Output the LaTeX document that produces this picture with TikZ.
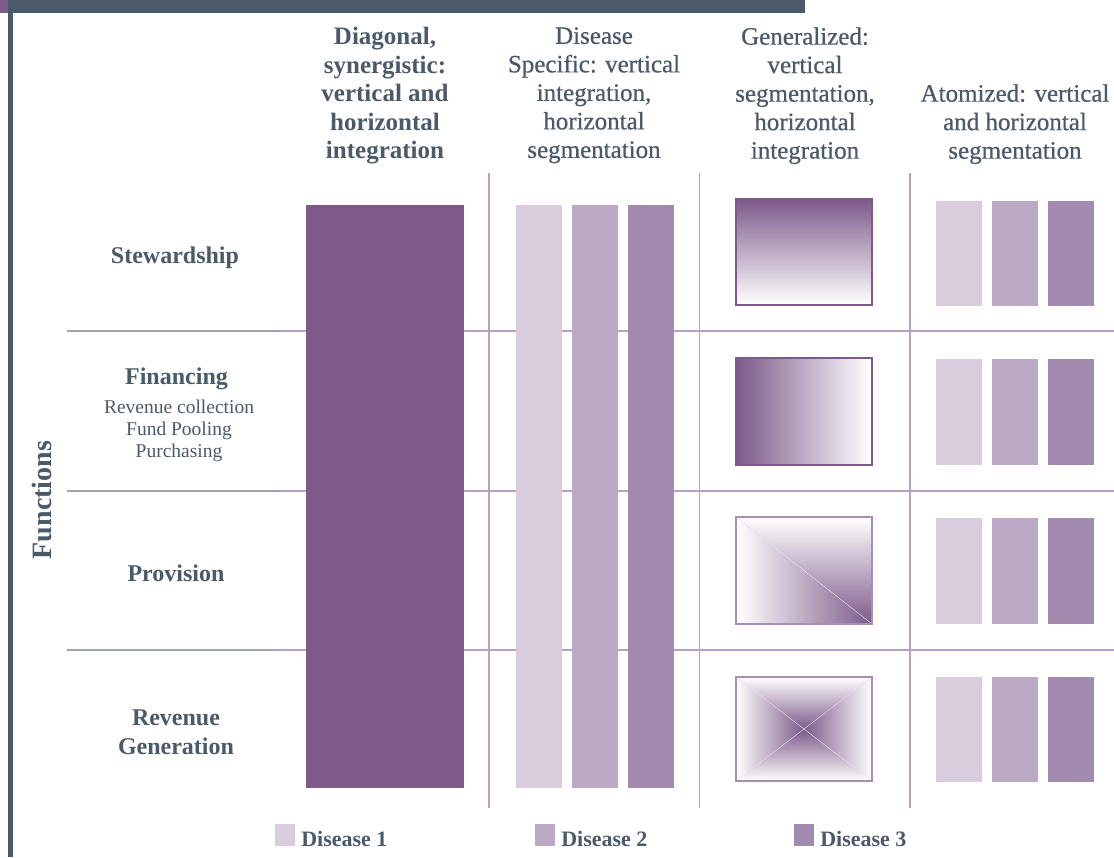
\documentclass[tikz,border=0pt]{standalone}
\usepackage{fontspec}
\setmainfont{Liberation Serif}
\newfontfamily\semib[FakeBold=0.6]{Liberation Serif}
\usepackage{tikz}
\usetikzlibrary{positioning}
\definecolor{slate}{HTML}{4B5A69}
\definecolor{plum}{HTML}{7D5A8A}
\definecolor{dOne}{HTML}{D8CCDD}
\definecolor{dTwo}{HTML}{BBA9C6}
\definecolor{dThree}{HTML}{A38BAF}
\definecolor{gridline}{HTML}{B6A2C4}
\definecolor{rowline}{HTML}{9EA6AD}
\definecolor{edge}{HTML}{A68FB3}

\begin{document}
\begin{tikzpicture}[x=1pt, y=-1pt,
    semithick,
    colhead/.style={align=center, anchor=north, inner sep=0pt, text=slate,
      font=\fontsize{25}{28.5}\selectfont\semib},
    rowhead/.style={align=center, inner sep=0pt, text=slate,
      font=\fontsize{24}{29}\selectfont\bfseries},
    subitem/.style={align=center, anchor=north, inner sep=0pt, text=slate,
      font=\fontsize{19.5}{22}\selectfont},
    bar/.style={rectangle, inner sep=0pt, outer sep=0pt, draw=none},
    legend/.style={text=slate, inner sep=0pt,
      font=\fontsize{22}{24}\selectfont\bfseries},
    gridv/.style={draw=gridline, line width=1.2pt}
    ]
\useasboundingbox[fill=white] (0,0) rectangle (1114,857);

% frame
\fill[slate] (8,0) rectangle (805,13);
\fill[plum] (0,0) rectangle (8,13);
\fill[slate] (8,13) rectangle (13,857);

% grid
\foreach \i/\y in {1/331,2/491,3/650}{
  \coordinate (g\i) at (67,\y);
  \coordinate (m\i) at (278,\y);
  \coordinate (e\i) at (1114,\y);
  \draw[rowline, line width=1.2pt] (g\i) -- (m\i);
  \draw[gridline, line width=1.2pt] (m\i) -- (e\i);
}
\foreach \i/\x in {1/489,2/699.5,3/910}{
  \coordinate (t\i) at (\x,173);
  \coordinate (b\i) at (\x,808);
  \draw[gridv] (t\i) -- (b\i);
}

% column headers
\node[colhead, font=\fontsize{25}{28.5}\selectfont\bfseries] (hdiag) at (385,27)
  {Diagonal,\\synergistic:\\vertical and\\horizontal\\integration};
\node[colhead] (hspec) at (594,27)
  {Disease\\Specific: vertical\\integration,\\horizontal\\segmentation};
\node[colhead] (hgen) at (805,27)
  {Generalized:\\vertical\\segmentation,\\horizontal\\integration};
\node[colhead] (hatom) at (1015,84)
  {Atomized: vertical\\and horizontal\\segmentation};

% row headers
\node[rowhead, anchor=base] (stew) at (175,263) {Stewardship};
\node[rowhead, anchor=base] (fin) at (176.5,384) {Financing};
\node[subitem] (finsub) at (179,400)
  {Revenue collection\\Fund Pooling\\Purchasing};
\node[rowhead, anchor=base] (prov) at (176,581) {Provision};
\node[rowhead, anchor=north] (revgen) at (176,709) {Revenue\\Generation};
\node[rowhead, font=\fontsize{28}{30}\selectfont\bfseries, rotate=90] (func) at (42,500) {Functions};

% diagonal
\node[bar, fill=plum, minimum width=158pt, minimum height=583pt] (diag) at (385,496.5) {};

% disease specific
\foreach \j/\x/\c in {1/539/dOne,2/595/dTwo,3/651/dThree}
  \node[bar, fill=\c, minimum width=46pt, minimum height=583pt] (spec\j) at (\x,496.5) {};

% generalized
\node[bar, minimum width=136pt, minimum height=106pt] (gen1) at (804,252) {};
\node[bar, minimum width=136pt, minimum height=107pt] (gen2) at (804,411.5) {};
\node[bar, minimum width=136pt, minimum height=107pt] (gen3) at (804,570.5) {};
\node[bar, minimum width=136pt, minimum height=104pt] (gen4) at (804,729) {};

\shade[top color=plum, bottom color=white] (gen1.north west) rectangle (gen1.south east);
\draw[plum, line width=1.5pt] (gen1.north west) rectangle (gen1.south east);

\shade[left color=plum, right color=white] (gen2.north west) rectangle (gen2.south east);
\draw[plum, line width=1.5pt] (gen2.north west) rectangle (gen2.south east);

\begin{scope}
  \clip (gen3.north west) -- (gen3.north east) -- (gen3.south east) -- cycle;
  \shade[top color=white, bottom color=plum] (gen3.north west) rectangle (gen3.south east);
\end{scope}
\begin{scope}
  \clip (gen3.north west) -- (gen3.south west) -- (gen3.south east) -- cycle;
  \shade[left color=white, right color=plum] (gen3.north west) rectangle (gen3.south east);
\end{scope}
\draw[dOne!60!white, thin] (gen3.north west) -- (gen3.south east);
\draw[edge, line width=1.5pt] (gen3.north west) rectangle (gen3.south east);

\begin{scope}
  \clip (gen4.north west) -- (gen4.north east) -- (gen4.center) -- cycle;
  \shade[top color=white, bottom color=plum] (gen4.north west) rectangle (gen4.east);
\end{scope}
\begin{scope}
  \clip (gen4.south west) -- (gen4.south east) -- (gen4.center) -- cycle;
  \shade[top color=plum, bottom color=white] (gen4.west) rectangle (gen4.south east);
\end{scope}
\begin{scope}
  \clip (gen4.north west) -- (gen4.south west) -- (gen4.center) -- cycle;
  \shade[left color=white, right color=plum] (gen4.north west) rectangle (gen4.south);
\end{scope}
\begin{scope}
  \clip (gen4.north east) -- (gen4.south east) -- (gen4.center) -- cycle;
  \shade[left color=plum, right color=white] (gen4.north) rectangle (gen4.south east);
\end{scope}
\draw[dOne!60!white, thin] (gen4.north west) -- (gen4.south east);
\draw[dOne!60!white, thin] (gen4.north east) -- (gen4.south west);
\draw[edge, line width=1.5pt] (gen4.north west) rectangle (gen4.south east);

% atomized
\foreach \r/\y/\h in {1/253.5/105,2/412/106,3/571/106,4/729.5/105}
  \foreach \j/\x/\c in {1/959/dOne,2/1015/dTwo,3/1071/dThree}
    \node[bar, fill=\c, minimum width=46pt, minimum height=\h pt] (atom\r\j) at (\x,\y) {};

% legend
\node[bar, fill=dOne, minimum width=20pt, minimum height=22pt, anchor=north west] (key1) at (275,824) {};
\node[bar, fill=dTwo, minimum width=20pt, minimum height=22pt, anchor=north west] (key2) at (535,824) {};
\node[bar, fill=dThree, minimum width=20pt, minimum height=22pt, anchor=north west] (key3) at (794,824) {};
\node[legend, right=6pt of key1.south east, anchor=base west] (lab1) {Disease 1};
\node[legend, right=6pt of key2.south east, anchor=base west] (lab2) {Disease 2};
\node[legend, right=6pt of key3.south east, anchor=base west] (lab3) {Disease 3};
\end{tikzpicture}
\end{document}
